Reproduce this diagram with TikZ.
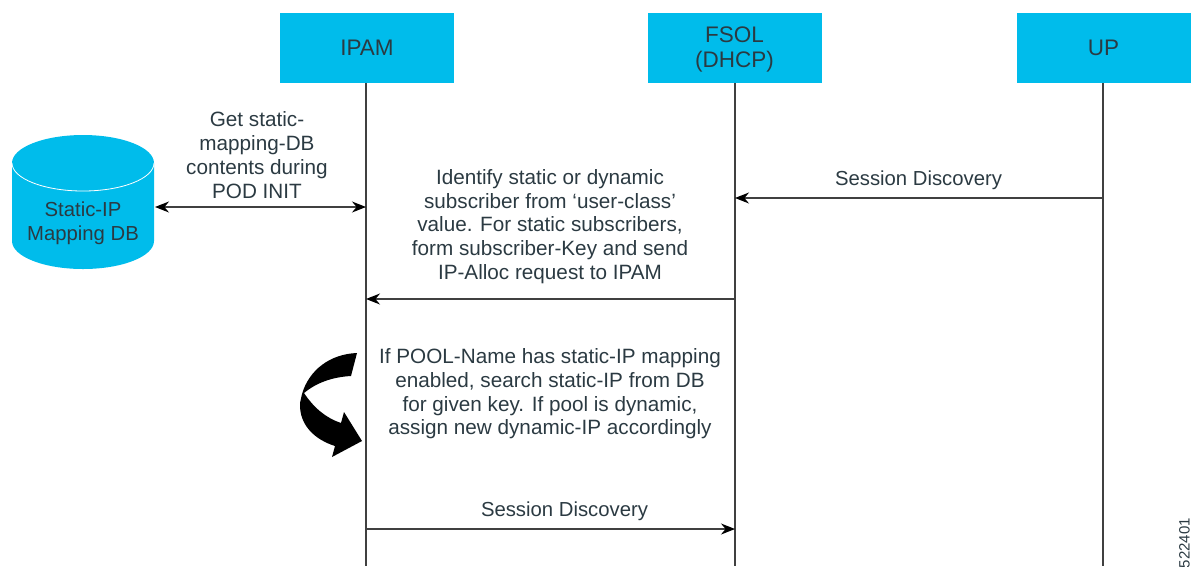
\documentclass[tikz,border=0pt]{standalone}
\usepackage{fontspec}
\setmainfont{Liberation Sans}
\usetikzlibrary{arrows.meta,shapes.geometric}
\definecolor{cisco}{HTML}{00BCEB}
\definecolor{txt}{HTML}{2B3A42}
\tikzset{
  x=1pt,y=-1pt,
  actor/.style={fill=cisco,minimum width=174pt,minimum height=70pt,inner sep=0pt,align=center,text=txt,font=\fontsize{22.5}{25.5}\selectfont},
  lifeline/.style={draw=black!75,line width=1.3pt},
  msg/.style={draw=black!75,line width=1.2pt,-{Stealth[length=14pt,width=11pt,black]}},
  dmsg/.style={draw=black!75,line width=1.2pt,{Stealth[length=14pt,width=11pt,black]}-{Stealth[length=14pt,width=11pt,black]}},
  lbl/.style={align=center,text=txt,inner sep=0pt,font=\fontsize{20.7}{23.75}\selectfont},
  lblsmall/.style={align=center,text=txt,inner sep=0pt,font=\fontsize{20.3}{23.75}\selectfont},
}
\begin{document}
\begin{tikzpicture}
\useasboundingbox (0,0) rectangle (1193,566);
\node[actor] (ipam) at (367,48) {\raisebox{-1pt}{IPAM}};
\node[actor,text depth=2pt] (fsol) at (734.5,48) {FSOL\\(DHCP)};
\node[actor] (up) at (1103.5,48) {\raisebox{-1pt}{UP}};
\coordinate (ipamend) at (366,566);
\coordinate (fsolend) at (735,566);
\coordinate (upend) at (1103,566);
\draw[lifeline] (366,83) -- (ipamend);
\draw[lifeline] (735,83) -- (fsolend);
\draw[lifeline] (1103,83) -- (upend);
% database
\fill[cisco] (12,163) -- (12,241) arc[start angle=180,end angle=0,x radius=71,y radius=28] -- (154,163) arc[start angle=0,end angle=-180,x radius=71,y radius=28] -- cycle;
\draw[white,line width=0.8pt] (12,163) arc[start angle=180,end angle=0,x radius=71,y radius=28];
\node[lblsmall] (db) at (83,223) {Static-IP\\Mapping DB};
% connectors
\coordinate (dbr) at (155,207);
\coordinate (ipam1) at (366,207);
\coordinate (up1) at (1103,198);
\coordinate (fsol1) at (735,198);
\coordinate (fsol2) at (735,299);
\coordinate (ipam2) at (366,299);
\coordinate (ipam3) at (366,529);
\coordinate (fsol3) at (735,529);
\draw[dmsg] (dbr) -- (ipam1);
\draw[msg] (up1) -- (fsol1);
\draw[msg] (fsol2) -- (ipam2);
\draw[msg] (ipam3) -- (fsol3);
% labels
\node[lbl] (l1) at (257,155) {Get static-\\mapping-DB\\contents during\\POD INIT};
\node[lbl] (l2) at (550,226.5) {Identify static or dynamic\\subscriber from ‘user-class’\\value. For static subscribers,\\form subscriber-Key and send\\IP-Alloc request to IPAM};
\node[lblsmall] (l3) at (918.5,180) {Session Discovery};
\node[lbl] (l4) at (550,394) {If POOL-Name has static-IP mapping\\enabled, search static-IP from DB\\for given key. If pool is dynamic,\\assign new dynamic-IP accordingly};
\node[lblsmall] (l5) at (564.5,511) {Session Discovery};
\node[rotate=90,inner sep=0pt,text=txt,font=\fontsize{15}{17}\selectfont,anchor=south east] (id) at (1190,518) {522401};
% curved arrow
\fill[black] (357,353) -- (351,376) .. controls (332,377) and (316,383) .. (304,393)
  .. controls (314,408) and (326,418) .. (341,423)
  -- (344,412) -- (362,441) -- (332,457) -- (335,446)
  .. controls (316,440) and (299,426) .. (300,403)
  -- (302,394) .. controls (309,370) and (330,354) .. cycle;
\end{tikzpicture}
\end{document}
